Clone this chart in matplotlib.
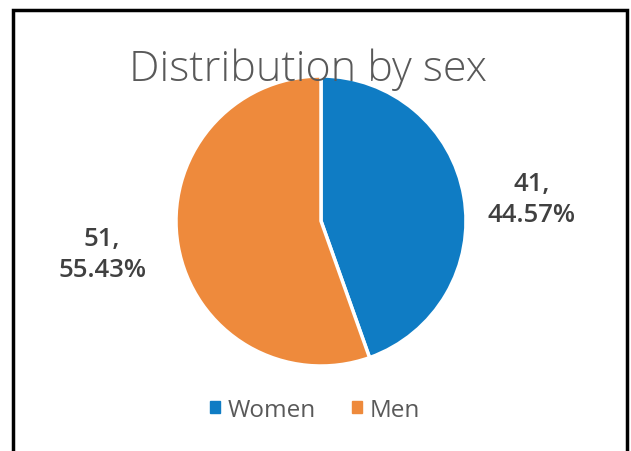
import matplotlib
matplotlib.use("Agg")
import matplotlib.pyplot as plt
from matplotlib.patches import Rectangle

categories = ["Women", "Men"]
values = [41, 51]
percents = ["44.57%", "55.43%"]
colors = ["#0F7CC4", "#EE8A3C"]

plt.rcParams['font.family'] = ['Open Sans', 'DejaVu Sans']

W, H = 631, 452
fig = plt.figure(figsize=(W / 100, H / 100), dpi=100)

# frame
fig.patches.append(Rectangle((13 / W, -0.05), (627 - 13) / W, 1.05 - 11 / H,
                             transform=fig.transFigure, fill=False,
                             edgecolor="black", linewidth=2.5))

cx, cy, r = 321, 222, 145
ax = fig.add_axes([(cx - r) / W, (H - cy - r) / H, 2 * r / W, 2 * r / H])
wedges, _ = ax.pie(values, colors=colors, startangle=90, counterclock=False,
                   wedgeprops=dict(edgecolor="white", linewidth=2.5))
ax.set_xlim(-1, 1)
ax.set_ylim(-1, 1)
ax.set_aspect("equal")
ax.axis("off")

# data labels
label_pos = [(532, 200), (102, 255)]
for (x, y), v, p in zip(label_pos, values, percents):
    fig.text(x / W, 1 - y / H, f"{v},\n{p}", ha="center", va="center",
             fontsize=18.5, color="#404040", fontweight="semibold", linespacing=1.35)

# title
fig.text(308 / W, 1 - 70 / H, "Distribution by sex", ha="center", va="center",
         fontsize=31, color="#595959", fontweight="light")

# legend
leg = fig.legend(handles=[Rectangle((0, 0), 1, 1, color=c) for c in colors],
                 labels=categories, loc="center", bbox_to_anchor=(315 / W, 1 - 411 / H),
                 ncol=2, frameon=False, fontsize=17.5, handlelength=0.4, handleheight=0.4,
                 handletextpad=0.3, columnspacing=1.5, labelcolor="#595959")

fig.savefig("out.png", dpi=100)
